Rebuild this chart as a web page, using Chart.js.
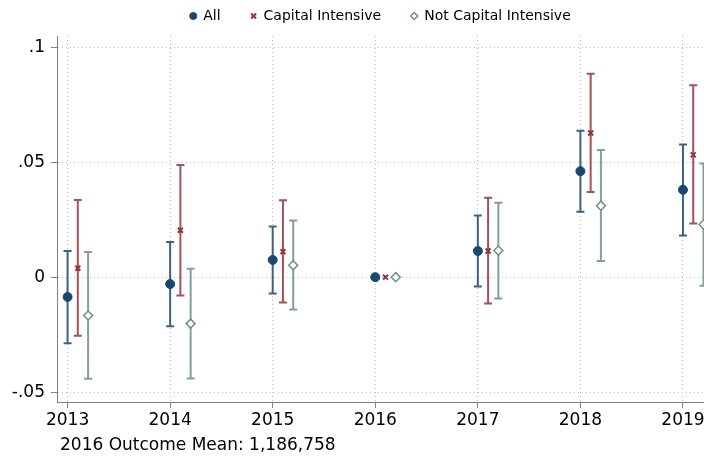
<!DOCTYPE html>
<html>
<head>
<meta charset="utf-8">
<script src="https://cdn.jsdelivr.net/npm/chart.js@4"></script>
<style>
  html, body { margin: 0; padding: 0; background: #fff; }
  #wrap { width: 704px; height: 458px; }
</style>
</head>
<body>
<div id="wrap"><canvas id="chart" width="704" height="458"></canvas></div>
<script>
// Data
const years = [2013, 2014, 2015, 2016, 2017, 2018, 2019];
const seriesNames = ['All', 'Capital Intensive', 'Not Capital Intensive'];
const xOffsets = [0, 0.1, 0.2];

const allCoef = [-0.0086, -0.0030, 0.0075, 0, 0.0114, 0.0461, 0.0380];
const allLo   = [-0.0287, -0.0213, -0.0071, 0, -0.0041, 0.0285, 0.0181];
const allHi   = [ 0.0114,  0.0153,  0.0220, 0,  0.0268, 0.0637, 0.0577];

const capCoef = [ 0.0039,  0.0204,  0.0111, 0,  0.0114, 0.0627, 0.0532];
const capLo   = [-0.0255, -0.0080, -0.0110, 0, -0.0115, 0.0370, 0.0233];
const capHi   = [ 0.0336,  0.0488,  0.0335, 0,  0.0345, 0.0885, 0.0835];

const notCoef = [-0.0167, -0.0202,  0.0052, 0,  0.0116, 0.0311, 0.0229];
const notLo   = [-0.0442, -0.0441, -0.0141, 0, -0.0093, 0.0070, -0.0037];
const notHi   = [ 0.0110,  0.0037,  0.0246, 0,  0.0324, 0.0553, 0.0494];

const yTicks = [-0.05, 0, 0.05, 0.1];
const yTickLabels = ['-.05', '0', '.05', '.1'];
const noteText = '2016 Outcome Mean: 1,186,758';

// Colours (Stata s2color-ish)
const navy = '#1a476f';
const maroon = '#90353b';
const teal = '#6e8e84';

Chart.defaults.font.family = "'DejaVu Sans', sans-serif";
Chart.defaults.color = '#000';

function points(coef, off) {
  return years.map((y, i) => ({ x: y + off, y: coef[i] }));
}

const ciLo = [allLo, capLo, notLo];
const ciHi = [allHi, capHi, notHi];
const ciColors = ['rgba(26,71,111,0.85)', 'rgba(144,53,59,0.85)', 'rgba(110,142,132,0.85)'];

// error bars drawn through the chart scales
const errorBars = {
  id: 'errorBars',
  beforeDatasetsDraw(chart) {
    const ctx = chart.ctx;
    const yScale = chart.scales.y;
    const area = chart.chartArea;
    ctx.save();
    ctx.beginPath();
    ctx.rect(area.left, area.top, area.right - area.left, area.bottom - area.top);
    ctx.clip();
    chart.data.datasets.forEach((ds, d) => {
      const meta = chart.getDatasetMeta(d);
      meta.data.forEach((pt, i) => {
        const lo = ciLo[d][i], hi = ciHi[d][i];
        if (lo === hi) return;
        const x = pt.x;
        const y1 = yScale.getPixelForValue(lo);
        const y2 = yScale.getPixelForValue(hi);
        ctx.strokeStyle = ciColors[d];
        ctx.lineWidth = 2;
        ctx.beginPath();
        ctx.moveTo(x, y1); ctx.lineTo(x, y2);
        ctx.moveTo(x - 4, y1); ctx.lineTo(x + 4, y1);
        ctx.moveTo(x - 4, y2); ctx.lineTo(x + 4, y2);
        ctx.stroke();
      });
    });
    ctx.restore();
  }
};

// legend placement + footnote
const layoutTweaks = {
  id: 'layoutTweaks',
  afterLayout(chart) {
    const lg = chart.legend;
    const p = lg.options.labels.padding;
    lg.top = 9 - p;
  },
  afterDraw(chart) {
    const ctx = chart.ctx;
    ctx.save();
    ctx.font = "17px 'DejaVu Sans'";
    ctx.fillStyle = '#000';
    ctx.textBaseline = 'middle';
    ctx.textAlign = 'left';
    ctx.fillText(noteText, 60, 446);
    ctx.restore();
  }
};

new Chart(document.getElementById('chart'), {
  type: 'scatter',
  data: {
    datasets: [
      {
        label: seriesNames[0],
        data: points(allCoef, xOffsets[0]),
        pointStyle: 'circle',
        pointRadius: 4.5,
        backgroundColor: navy,
        borderColor: navy,
        borderWidth: 1
      },
      {
        label: seriesNames[1],
        data: points(capCoef, xOffsets[1]),
        pointStyle: 'crossRot',
        pointRadius: 3.5,
        backgroundColor: maroon,
        borderColor: maroon,
        borderWidth: 2
      },
      {
        label: seriesNames[2],
        data: points(notCoef, xOffsets[2]),
        pointStyle: 'rectRot',
        pointRadius: 4.5,
        backgroundColor: '#fff',
        borderColor: teal,
        borderWidth: 1.5
      }
    ]
  },
  options: {
    responsive: false,
    animation: false,
    events: [],
    layout: { padding: 0, autoPadding: false },
    plugins: {
      tooltip: { enabled: false },
      legend: {
        position: 'top',
        fullSize: false,
        maxHeight: 36,
        labels: {
          usePointStyle: true,
          boxWidth: 6,
          boxHeight: 5,
          padding: 30,
          color: '#000',
          font: { size: 14 }
        }
      }
    },
    scales: {
      x: {
        type: 'linear',
        min: 2012.897,
        max: 2019.205,
        afterBuildTicks: (scale) => { scale.ticks = years.map(v => ({ value: v })); },
        afterFit: (scale) => {
          scale.height = 56;
          scale.paddingLeft = 0;
          scale.paddingRight = 0;
        },
        ticks: {
          callback: (v) => String(v),
          font: { size: 17 },
          color: '#000',
          padding: 2,
          maxRotation: 0
        },
        grid: {
          color: '#bdbdbd',
          tickColor: '#808080',
          tickLength: 6,
          tickBorderDash: []
        },
        border: { color: '#808080', width: 1, dash: [1, 3] }
      },
      y: {
        min: -0.0543,
        max: 0.1049,
        afterBuildTicks: (scale) => { scale.ticks = yTicks.map(v => ({ value: v })); },
        afterFit: (scale) => {
          scale.width = 57;
          scale.paddingTop = 0;
          scale.paddingBottom = 0;
        },
        ticks: {
          callback: (v, i) => yTickLabels[i],
          font: { size: 17 },
          color: '#000',
          padding: 6
        },
        grid: {
          color: '#bdbdbd',
          tickColor: '#808080',
          tickLength: 6,
          tickBorderDash: []
        },
        border: { color: '#808080', width: 1, dash: [1, 3] }
      }
    }
  },
  plugins: [errorBars, layoutTweaks]
});
</script>
</body>
</html>
